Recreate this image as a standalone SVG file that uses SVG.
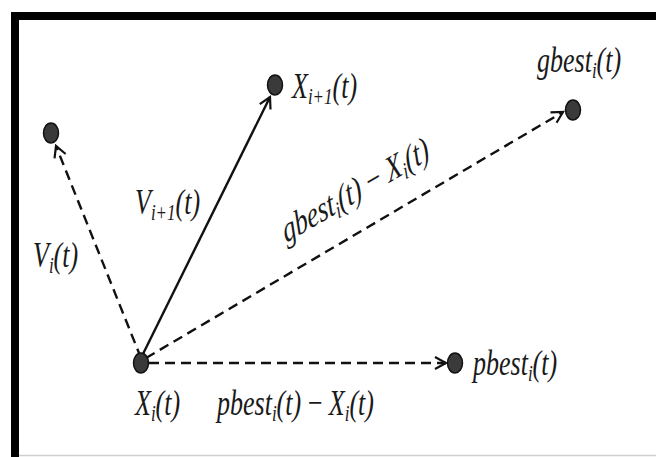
<svg xmlns="http://www.w3.org/2000/svg" width="656" height="457" viewBox="0 0 656 457">
<defs>
<style>
.lbl{font-family:"Liberation Serif","Times New Roman",serif;font-style:italic;font-size:26px;fill:#1a1a1a}
.sub{font-size:17px}
.up{font-style:normal}
.node{fill:#3a3a3a;stroke:#111;stroke-width:1.5}
.conn{stroke:#111;stroke-width:2.4;fill:none}
.dash{stroke-dasharray:10 6}
</style>
<marker id="chev" markerUnits="userSpaceOnUse" markerWidth="20" markerHeight="20" viewBox="-14 -10 20 20" refX="0" refY="0" orient="auto">
<path d="M-11,-6 L0,0 L-11,6" fill="none" stroke="#111" stroke-width="2.2"/>
</marker>
</defs>
<rect x="0" y="0" width="656" height="457" fill="#fff"/>
<rect x="11" y="12" width="645" height="8" fill="#000"/>
<rect x="11" y="12" width="8" height="445" fill="#000"/>
<line x1="19" y1="455.5" x2="656" y2="455.5" stroke="#cfcfcf" stroke-width="1.5"/>
<g id="connectors">
<line class="conn dash" x1="141" y1="358" x2="56" y2="146" marker-end="url(#chev)"/>
<line class="conn" x1="141" y1="358" x2="270" y2="97" marker-end="url(#chev)"/>
<line class="conn dash" x1="146" y1="358" x2="563" y2="112" marker-end="url(#chev)"/>
<line class="conn dash" x1="149" y1="363" x2="446" y2="363" marker-end="url(#chev)"/>
</g>
<g id="node-xi">
<ellipse class="node" cx="141" cy="363" rx="7.5" ry="10"/>
<text class="lbl" transform="translate(135,415) scale(1,1.4)">X<tspan class="sub" dy="4">i</tspan><tspan dy="-4">(t)</tspan></text>
</g>
<g id="node-vi">
<ellipse class="node" cx="51" cy="133" rx="7.5" ry="10"/>
</g>
<g id="node-xi1">
<ellipse class="node" cx="275" cy="85" rx="7.5" ry="10"/>
<text class="lbl" transform="translate(292,98) scale(1,1.4)">X<tspan class="sub" dy="4">i+1</tspan><tspan dy="-4">(t)</tspan></text>
</g>
<g id="node-gbest">
<ellipse class="node" cx="573" cy="110" rx="7.5" ry="10"/>
<text class="lbl" transform="translate(537,72) scale(1,1.4)">gbest<tspan class="sub" dy="4">i</tspan><tspan dy="-4">(t)</tspan></text>
</g>
<g id="node-pbest">
<ellipse class="node" cx="455" cy="363" rx="7.5" ry="10"/>
<text class="lbl" transform="translate(473,375) scale(1,1.4)">pbest<tspan class="sub" dy="4">i</tspan><tspan dy="-4">(t)</tspan></text>
</g>
<g id="labels">
<text class="lbl" transform="translate(33,267) scale(1,1.4)">V<tspan class="sub" dy="4">i</tspan><tspan dy="-4">(t)</tspan></text>
<text class="lbl" transform="translate(135,214) scale(1,1.4)">V<tspan class="sub" dy="4">i+1</tspan><tspan dy="-4">(t)</tspan></text>
<text class="lbl" transform="translate(217,415) scale(1,1.4)">pbest<tspan class="sub" dy="4">i</tspan><tspan dy="-4">(t) <tspan class="up">−</tspan> X</tspan><tspan class="sub" dy="4">i</tspan><tspan dy="-4">(t)</tspan></text>
<text class="lbl" transform="translate(286,243) scale(1,1.4) rotate(-22.6)">gbest<tspan class="sub" dy="4">i</tspan><tspan dy="-4">(t) <tspan class="up">−</tspan> X</tspan><tspan class="sub" dy="4">i</tspan><tspan dy="-4">(t)</tspan></text>
</g>
</svg>
